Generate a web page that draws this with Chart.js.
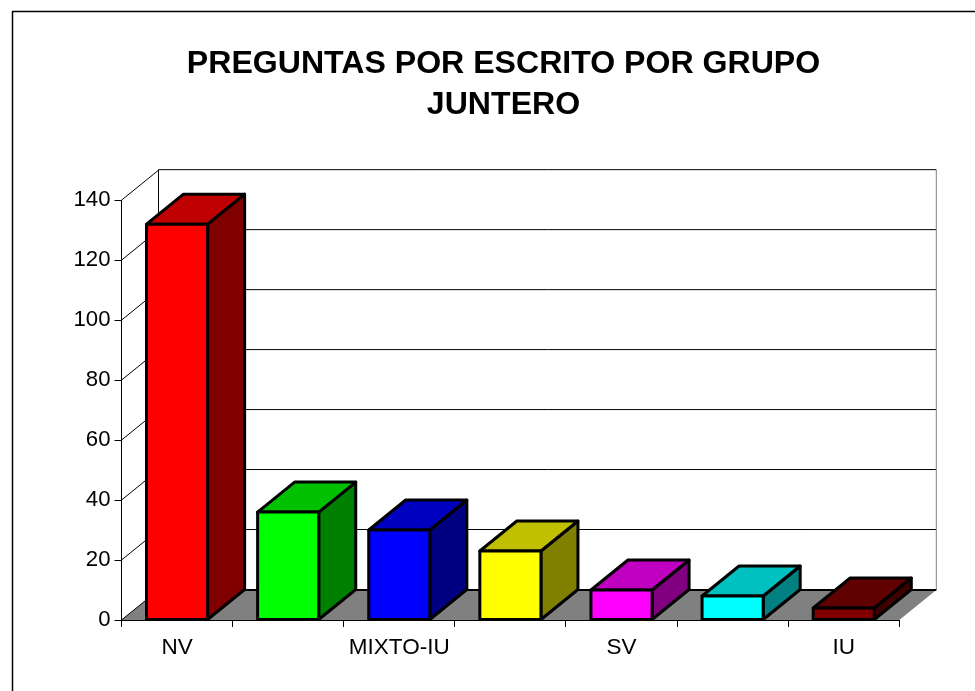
<!DOCTYPE html>
<html>
<head>
<meta charset="utf-8">
<style>
  html, body { margin: 0; padding: 0; background: #fff; overflow: hidden; }
  canvas { display: block; }
</style>
</head>
<body>
<canvas id="preguntasChart" width="975" height="691"></canvas>
<script src="https://cdn.jsdelivr.net/npm/chart.js@4/dist/chart.umd.min.js"></script>
<script>
const titleLines = ['PREGUNTAS POR ESCRITO POR GRUPO', 'JUNTERO'];
// some category names are not shown in the picture, only every other one
const categories = ['NV', '', 'MIXTO-IU', '', 'SV', '', 'IU'];
const values = [132, 36, 30, 23, 10, 8, 4];
const frontColors = ['#ff0000', '#00ff00', '#0000ff', '#ffff00', '#ff00ff', '#00ffff', '#800000'];
const topColors = ['#c00000', '#00c000', '#0000c0', '#c0c000', '#c000c0', '#00c0c0', '#600000'];
const sideColors = ['#800000', '#008000', '#000080', '#808000', '#800080', '#008080', '#400000'];

const DEPTH_X = 37;
const DEPTH_Y = 30;
const BAR_LINE = 3;
const FONT = '"Liberation Sans", Arial, sans-serif';

function poly(ctx, pts, fill, stroke, lineWidth) {
    ctx.beginPath();
    pts.forEach((p, i) => i ? ctx.lineTo(p[0], p[1]) : ctx.moveTo(p[0], p[1]));
    ctx.closePath();
    if (fill) {
        ctx.fillStyle = fill;
        ctx.fill();
    }
    if (stroke) {
        ctx.strokeStyle = stroke;
        ctx.lineWidth = lineWidth;
        ctx.stroke();
    }
}

function line(ctx, x1, y1, x2, y2, color, width) {
    ctx.beginPath();
    ctx.moveTo(x1, y1);
    ctx.lineTo(x2, y2);
    ctx.strokeStyle = color;
    ctx.lineWidth = width;
    ctx.stroke();
}

// walls, floor and the outer frame go under the scales
const backdrop = {
    id: 'backdrop',
    afterLayout(chart) {
        // title is centred on the frame, not on the canvas
        chart.titleBlock.left = 32;
        chart.titleBlock.right = 975;
    },
    beforeDraw(chart) {
        const { ctx, chartArea: a, scales } = chart;
        const left = a.left, right = a.right;
        const zero = scales.y.getPixelForValue(0);
        const backLeft = left + DEPTH_X, backRight = right + DEPTH_X;
        const backBottom = zero - DEPTH_Y;
        const backTop = scales.y.getPixelForValue(140) - DEPTH_Y - 0.5;
        ctx.save();

        line(ctx, 12.5, 691, 12.5, 11.5, '#000', 1.5);
        line(ctx, 12, 11.5, 975, 11.5, '#000', 1.5);

        poly(ctx, [[left, zero], [backLeft, backBottom], [backRight, backBottom], [right, zero]], '#808080');

        scales.y.ticks.forEach(t => {
            const y = scales.y.getPixelForValue(t.value);
            line(ctx, left, y, backLeft, y - DEPTH_Y, '#000', 1);
            if (t.value > 0) {
                line(ctx, backLeft, y - DEPTH_Y - 0.5, backRight, y - DEPTH_Y - 0.5, '#000', 1);
            }
        });
        line(ctx, backLeft, backTop, backLeft, backBottom, '#000', 1);
        line(ctx, backRight, backTop, backRight, backBottom, '#808080', 1);
        line(ctx, backLeft, backBottom, backRight, backBottom, '#000', 2);
        ctx.restore();
    }
};

// the library draws the flat bar fronts, this adds depth faces and outlines
const bars3d = {
    id: 'bars3d',
    beforeDatasetsDraw(chart) {
        const { ctx } = chart;
        ctx.save();
        ctx.lineJoin = 'round';
        chart.getDatasetMeta(0).data.forEach((bar, i) => {
            const p = bar.getProps(['x', 'y', 'base', 'width'], true);
            const x1 = p.x - p.width / 2, x2 = p.x + p.width / 2;
            poly(ctx, [[x2, p.y], [x2 + DEPTH_X, p.y - DEPTH_Y], [x2 + DEPTH_X, p.base - DEPTH_Y], [x2, p.base]],
                sideColors[i], '#000', BAR_LINE);
            poly(ctx, [[x1, p.y], [x1 + DEPTH_X, p.y - DEPTH_Y], [x2 + DEPTH_X, p.y - DEPTH_Y], [x2, p.y]],
                topColors[i], '#000', BAR_LINE);
        });
        ctx.restore();
    },
    afterDatasetsDraw(chart) {
        const { ctx } = chart;
        ctx.save();
        ctx.lineJoin = 'round';
        chart.getDatasetMeta(0).data.forEach(bar => {
            const p = bar.getProps(['x', 'y', 'base', 'width'], true);
            ctx.strokeStyle = '#000';
            ctx.lineWidth = BAR_LINE;
            ctx.strokeRect(p.x - p.width / 2, p.y, p.width, p.base - p.y);
        });
        ctx.restore();
    }
};

new Chart(document.getElementById('preguntasChart'), {
    type: 'bar',
    data: {
        labels: categories,
        datasets: [{
            data: values,
            backgroundColor: frontColors,
            borderWidth: 0,
            barPercentage: 0.55,
            categoryPercentage: 1
        }]
    },
    plugins: [backdrop, bars3d],
    options: {
        responsive: false,
        animation: false,
        layout: { padding: { left: 0, right: 75.7, top: 0, bottom: 0 } },
        plugins: {
            legend: { display: false },
            tooltip: { enabled: false },
            title: {
                display: true,
                text: titleLines,
                color: '#000',
                font: { family: FONT, size: 32.1, weight: 'bold', lineHeight: 1.28 },
                padding: { top: 44, bottom: 74 }
            }
        },
        scales: {
            x: {
                afterFit: s => { s.height = 71; },
                border: { display: true, color: '#000', width: 1 },
                grid: { display: true, offset: true, drawOnChartArea: false, drawTicks: true, tickLength: 7, tickColor: '#000', color: '#000' },
                ticks: {
                    autoSkip: false,
                    maxRotation: 0,
                    padding: 7,
                    color: '#000',
                    font: { family: FONT, size: 22.5 }
                }
            },
            y: {
                min: 0,
                max: 140,
                afterFit: s => { s.width = 121.5; },
                border: { display: true, color: '#000', width: 1 },
                grid: { display: true, drawOnChartArea: false, drawTicks: true, tickLength: 7, tickColor: '#000', color: '#000' },
                ticks: {
                    stepSize: 20,
                    padding: 4,
                    color: '#000',
                    font: { family: FONT, size: 22.2 }
                }
            }
        }
    }
});
</script>
</body>
</html>
